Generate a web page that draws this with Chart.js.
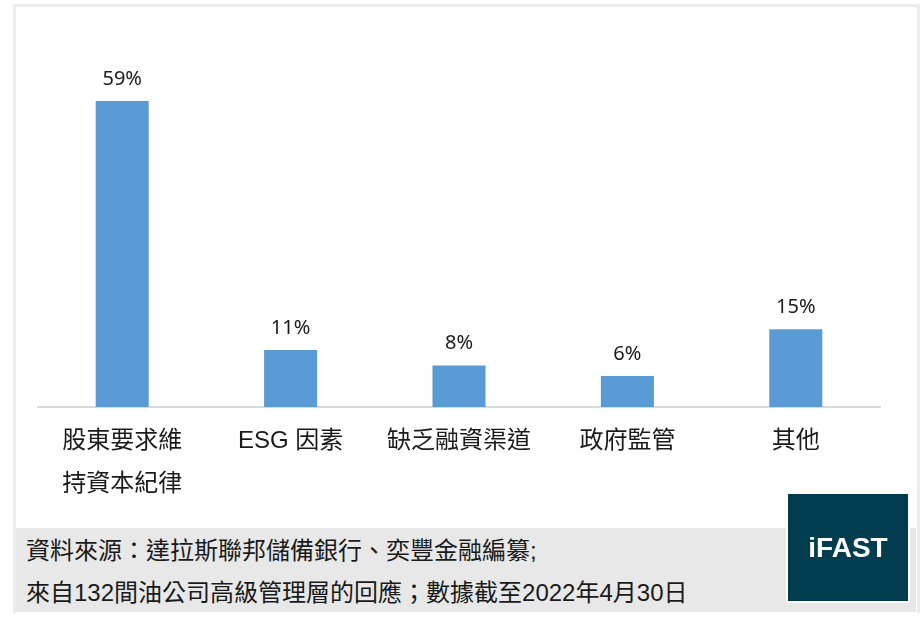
<!DOCTYPE html>
<html>
<head>
<meta charset="utf-8">
<script src="https://cdn.jsdelivr.net/npm/chart.js@4"></script>
<style>
  html, body { margin: 0; padding: 0; background: #fff; }
  body { width: 923px; height: 618px; position: relative; overflow: hidden;
         font-family: "Liberation Sans", "Noto Sans CJK TC", sans-serif; }
  #frame { position: absolute; left: 13px; top: 4px; width: 901px; height: 606px;
           border: 3px solid #ececec; border-bottom: none; }
  #chart-wrap { position: absolute; left: 0; top: 0; width: 923px; height: 528px; }
  #footer { position: absolute; left: 16px; top: 528px; width: 900px; height: 84px;
            background: #e8e8e8; color: #1a1a1a; font-size: 24px; line-height: 28px; }
  #footer div { position: absolute; left: 10px; white-space: nowrap; }
  #logo { position: absolute; left: 788px; top: 494px; width: 120px; height: 107px;
          background: #013d4f; color: #fff; font-weight: bold; font-size: 28px;
          display: flex; align-items: center; justify-content: center;
          box-shadow: 0 0 0 2px #fff; }
</style>
</head>
<body>
<div id="frame"></div>
<div id="chart-wrap"><canvas id="barChart" width="923" height="528"></canvas></div>
<div id="footer">
  <div style="top: 9px;">資料來源：達拉斯聯邦儲備銀行、奕豐金融編纂;</div>
  <div style="top: 51px;">來自132間油公司高級管理層的回應；數據截至2022年4月30日</div>
</div>
<div id="logo">iFAST</div>
<script>
const categories = [['股東要求維', '持資本紀律'], 'ESG 因素', '缺乏融資渠道', '政府監管', '其他'];
const shareValues = [59, 11, 8, 6, 15];

const valueLabels = {
  id: 'valueLabels',
  afterDatasetsDraw(chart) {
    const ctx = chart.ctx;
    const meta = chart.getDatasetMeta(0);
    ctx.save();
    ctx.font = '20px "Noto Sans", "Liberation Sans", sans-serif';
    ctx.fillStyle = '#1a1a1a';
    ctx.textAlign = 'center';
    ctx.textBaseline = 'middle';
    meta.data.forEach((bar, i) => {
      ctx.fillText(shareValues[i] + '%', bar.x, bar.y - 22);
    });
    ctx.restore();
  }
};

try {
  const ctx1 = document.getElementById('barChart').getContext('2d');
  new Chart(ctx1, {
    type: 'bar',
    data: {
      labels: categories,
      datasets: [{
        data: shareValues,
        backgroundColor: '#5b9bd5',
        categoryPercentage: 1,
        barPercentage: 0.315
      }]
    },
    options: {
      responsive: false,
      animation: false,
      layout: { padding: { left: 38, right: 43, top: 44, bottom: 0 } },
      scales: {
        y: { display: false, min: 0, max: 70 },
        x: {
          grid: { display: false },
          border: { display: true, color: '#d9d9d9', width: 2 },
          ticks: {
            color: '#1a1a1a',
            padding: 5,
            font: { size: 24, family: '"Liberation Sans", "Noto Sans CJK TC", sans-serif', lineHeight: 1.8 }
          },
          afterFit: (scale) => { scale.height = 121; }
        }
      },
      plugins: {
        legend: { display: false },
        tooltip: { enabled: false }
      }
    },
    plugins: [valueLabels]
  });
} catch (e) {
  console.error("Error creating barChart:", e);
}
</script>
</body>
</html>
